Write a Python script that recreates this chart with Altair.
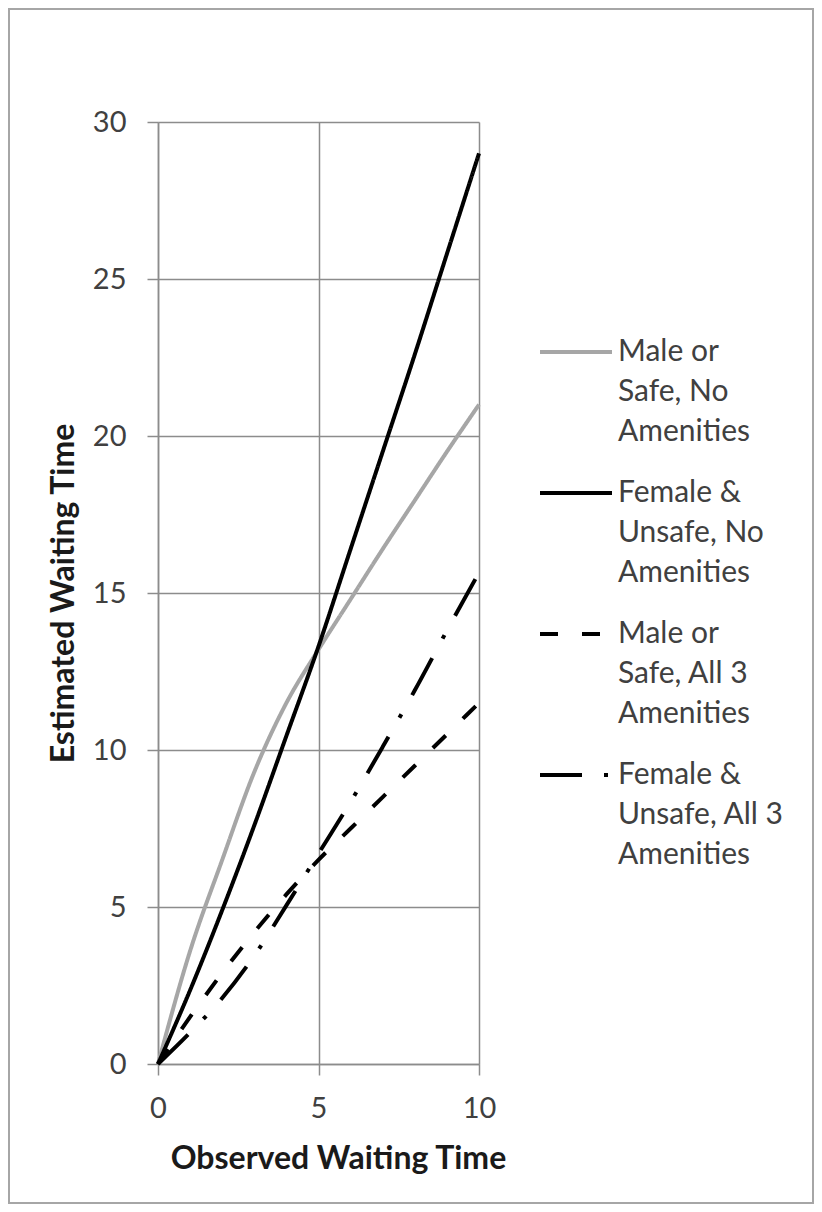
import altair as alt
import pandas as pd

# Observed waiting time (x)
observed = [0, 1, 2, 3, 4, 5, 6, 7, 8, 9, 10]

# Estimated waiting time per series
male_safe_none = [0, 3.6, 6.5, 9.3, 11.5, 13.2, 14.8, 16.4, 17.95, 19.5, 21.0]
female_unsafe_none = [0, 2.35, 4.9, 7.6, 10.45, 13.3, 16.4, 19.5, 22.6, 25.8, 29.0]
male_safe_all3 = [0, 1.5, 2.9, 4.2, 5.4, 6.5, 7.5, 8.5, 9.5, 10.5, 11.5]
female_unsafe_all3 = [0, 1.0, 2.1, 3.45, 5.05, 6.7, 8.35, 10.1, 11.9, 13.8, 15.65]

series_names = [
    "Male or Safe, No Amenities",
    "Female & Unsafe, No Amenities",
    "Male or Safe, All 3 Amenities",
    "Female & Unsafe, All 3 Amenities",
]
series_lines = [
    ["Male or", "Safe, No", "Amenities"],
    ["Female &", "Unsafe, No", "Amenities"],
    ["Male or", "Safe, All 3", "Amenities"],
    ["Female &", "Unsafe, All 3", "Amenities"],
]
series_values = [male_safe_none, female_unsafe_none, male_safe_all3, female_unsafe_all3]

colors = ["#a6a6a6", "#000000", "#000000", "#000000"]
dashes = [[1, 0], [1, 0], [18, 24], [42, 22, 4, 22]]

x_ticks = [0, 5, 10]
y_ticks = [0, 5, 10, 15, 20, 25, 30]

rows = []
for name, vals in zip(series_names, series_values):
    for xv, yv in zip(observed, vals):
        rows.append({"series": name, "observed": xv, "estimated": yv})
df = pd.DataFrame(rows)

label_expr = ""
for name, lines in zip(series_names, series_lines):
    arr = "[" + ",".join("'" + l + "'" for l in lines) + "]"
    label_expr += f"datum.label == '{name}' ? {arr} : "
label_expr += "datum.label"

FONT = "Lato"
GRID = "#8c8c8c"

legend = alt.Legend(title=None, orient="none", legendX=380, legendY=192,
                    labelExpr=label_expr, symbolType="stroke",
                    symbolSize=5184, symbolStrokeWidth=4,
                    labelFontSize=30, labelFont=FONT, labelColor="#404040",
                    labelBaseline="middle", labelOffset=4,
                    labelLimit=400, rowPadding=8)

lines_chart = alt.Chart(df).mark_line(interpolate="monotone", strokeWidth=4).encode(
    x=alt.X("observed:Q",
            scale=alt.Scale(domain=[0, 10], nice=False),
            axis=alt.Axis(values=x_ticks, title="Observed Waiting Time", titlePadding=20,
                          labelFlush=False, titleX=180, labelPadding=19)),
    y=alt.Y("estimated:Q",
            scale=alt.Scale(domain=[0, 30], nice=False),
            axis=alt.Axis(values=y_ticks, title="Estimated Waiting Time", titlePadding=12,
                          labelFlush=False, labelPadding=21)),
    color=alt.Color("series:N",
                    scale=alt.Scale(domain=series_names, range=colors),
                    legend=legend),
    strokeDash=alt.StrokeDash("series:N",
                              scale=alt.Scale(domain=series_names, range=dashes),
                              legend=legend),
    order=alt.Order("observed:Q"),
)

frame = alt.Chart(pd.DataFrame({"a": [0]})).mark_rect(
    fillOpacity=0, stroke="#a6a6a6", strokeWidth=2
).encode(
    x=alt.value(-149), x2=alt.value(655), y=alt.value(-113), y2=alt.value(1081)
)

chart = alt.layer(frame, lines_chart).properties(
    width=321, height=942,
    autosize=alt.AutoSizeParams(type="none"),
    padding={"left": 150, "top": 114, "right": 335, "bottom": 140},
).configure(
    style={"guide-label": {"lineHeight": 40}}
).configure_view(stroke=None).configure_axis(
    grid=True, gridColor=GRID, gridWidth=1.5,
    domainColor=GRID, domainWidth=1.5,
    tickColor=GRID, tickWidth=1.5, tickSize=11,
    labelFont=FONT, labelFontSize=29, labelColor="#404040",
    titleFont=FONT, titleFontSize=32, titleFontWeight="bold", titleColor="#1a1a1a",
)

chart.save("out.html", embed_options={"renderer": "svg", "actions": False})
